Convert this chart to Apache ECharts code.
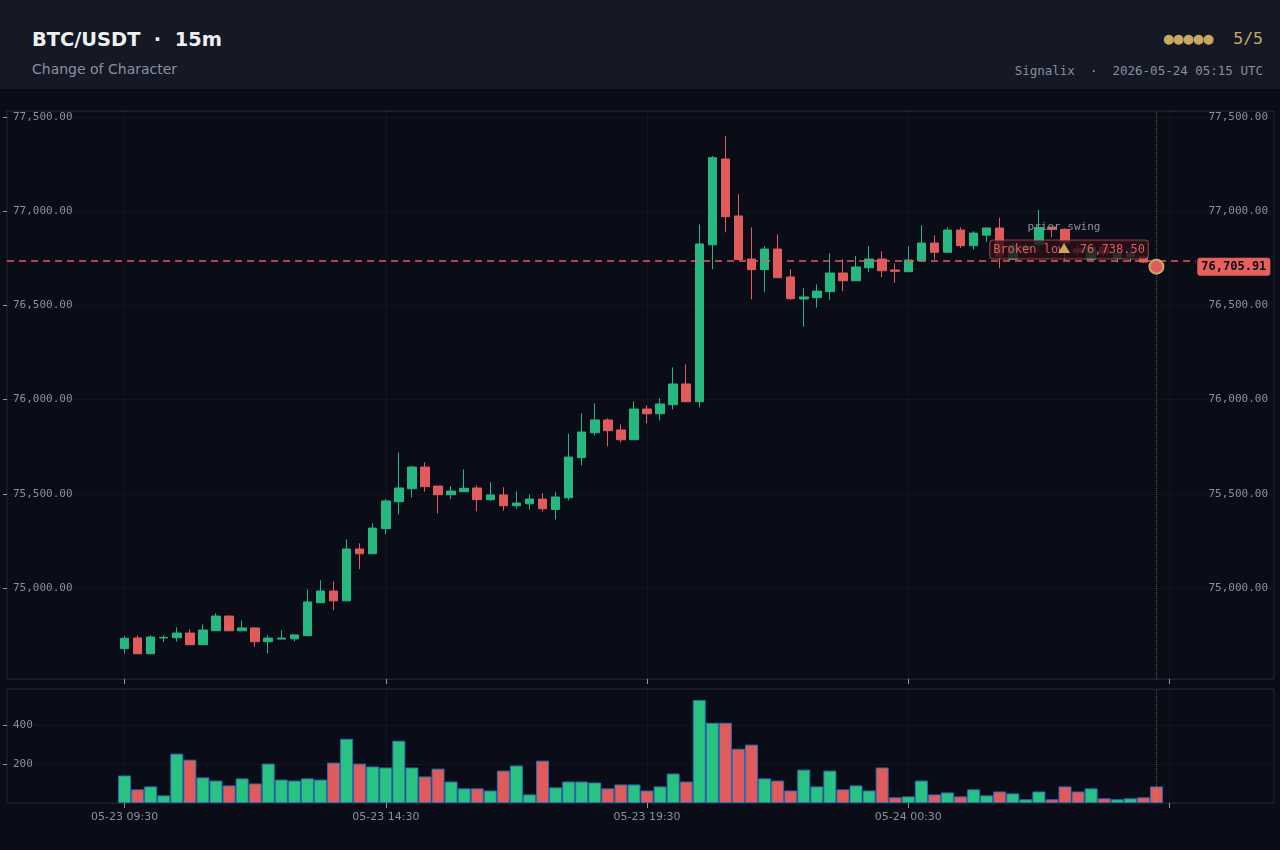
<!DOCTYPE html>
<html>
<head>
<meta charset="utf-8">
<script src="https://cdn.jsdelivr.net/npm/echarts@6/dist/echarts.min.js"></script>
<style>
  html, body { margin: 0; padding: 0; background: #0a0d17; width: 1280px; height: 850px; overflow: hidden; }
  .head { position: absolute; left: 0; top: 0; width: 1280px; height: 89px; background: #151825; }
  .title { position: absolute; left: 32px; top: 28px; font: bold 19.4px "DejaVu Sans"; color: #eef0f4; white-space: pre; }
  .sub { position: absolute; left: 32px; top: 61px; font: 14px "DejaVu Sans"; color: #8b90a0; }
  .score { position: absolute; right: 17px; top: 29px; font: 16.5px "DejaVu Sans Mono"; color: #c9a862; white-space: pre; }
  .meta { position: absolute; right: 17px; top: 63px; font: 12.5px "DejaVu Sans Mono"; color: #8a8f9e; white-space: pre; }
  #chart { position: absolute; left: 0; top: 89px; width: 1280px; height: 761px; }
</style>
</head>
<body>
<div class="head">
  <div class="title">BTC/USDT  ·  15m</div>
  <div class="sub">Change of Character</div>
  <div class="score">●●●●●  5/5</div>
  <div class="meta">Signalix  ·  2026-05-24 05:15 UTC</div>
</div>
<div id="chart"></div>
<script>
// 15m candles, 05-23 09:30 .. 05-24 05:15 (UTC)
var opens = [74678, 74735, 74651, 74735, 74736, 74761, 74699, 74773, 74851, 74773,
  74788, 74715, 74729, 74730, 74747, 74922, 74984, 74932, 75207, 75182,
  75315, 75458, 75527, 75642, 75541, 75495, 75511, 75531, 75469, 75494,
  75437, 75447, 75472, 75417, 75479, 75692, 75824, 75892, 75839, 75787,
  75950, 75925, 75973, 76083, 75989, 76822, 77277, 76975, 76746, 76690,
  76799, 76651, 76534, 76541, 76573, 76672, 76631, 76700, 76746, 76688,
  76679, 76736, 76831, 76782, 76900, 76817, 76873, 76911, 76745, 76800,
  76822, 76916, 76904, 76800, 76745, 76810, 76750, 76760, 76760, 76730];
var closes = [74733, 74651, 74740, 74738, 74761, 74699, 74777, 74851, 74773, 74788,
  74715, 74734, 74734, 74751, 74926, 74984, 74932, 75207, 75182, 75318,
  75462, 75531, 75642, 75538, 75495, 75515, 75529, 75469, 75494, 75437,
  75451, 75472, 75421, 75483, 75695, 75828, 75892, 75835, 75787, 75950,
  75925, 75977, 76083, 75989, 76826, 77284, 76971, 76743, 76690, 76799,
  76647, 76536, 76545, 76576, 76672, 76631, 76704, 76746, 76684, 76681,
  76741, 76831, 76782, 76900, 76817, 76884, 76911, 76762, 76820, 76815,
  76914, 76904, 76830, 76780, 76810, 76775, 76775, 76778, 76730, 76705.91];
var lows = [74652, 74651, 74649, 74712, 74716, 74699, 74699, 74773, 74771, 74772,
  74689, 74653, 74728, 74717, 74745, 74922, 74882, 74930, 75100, 75182,
  75285, 75391, 75481, 75511, 75396, 75471, 75511, 75407, 75463, 75410,
  75421, 75416, 75405, 75364, 75465, 75651, 75810, 75752, 75771, 75787,
  75874, 75890, 75948, 75989, 75959, 76692, 76888, 76743, 76532, 76570,
  76647, 76529, 76387, 76488, 76530, 76575, 76631, 76676, 76649, 76620,
  76679, 76736, 76744, 76782, 76806, 76796, 76838, 76697, 76745, 76770,
  76790, 76862, 76738.5, 76765, 76740, 76760, 76728, 76732, 76725, 76700];
var highs = [74745, 74749, 74749, 74749, 74791, 74781, 74807, 74866, 74853, 74828,
  74791, 74749, 74775, 74752, 74993, 75041, 75035, 75258, 75237, 75343,
  75471, 75720, 75648, 75667, 75541, 75541, 75630, 75545, 75561, 75535,
  75513, 75497, 75503, 75511, 75819, 75927, 75980, 75901, 75869, 75991,
  75970, 76007, 76171, 76187, 76930, 77293, 77398, 77090, 76914, 76815,
  76877, 76692, 76591, 76612, 76777, 76745, 76762, 76815, 76787, 76723,
  76814, 76925, 76872, 76915, 76915, 76893, 76911, 76965, 76835, 76830,
  77006, 76916, 76910, 76820, 76830, 76820, 76790, 76800, 76770, 76740];
var volumes = [141, 70, 85, 39, 253, 222, 131, 115, 90, 126,
  100, 202, 120, 115, 126, 120, 207, 329, 202, 187,
  182, 319, 182, 136, 176, 110, 75, 75, 64, 166,
  192, 44, 217, 80, 110, 110, 105, 75, 95, 95,
  64, 85, 151, 110, 528, 411, 411, 278, 299, 126,
  115, 64, 171, 85, 166, 70, 90, 64, 182, 29,
  34, 115, 44, 54, 34, 70, 39, 59, 49, 19,
  59, 19, 85, 59, 75, 24, 19, 24, 29, 85];

var swingLow = 76738.5;
var swingBar = 72;       // candle of the prior swing low
var lastPrice = 76705.91;
var priceMin = 74517, priceMax = 77532;
var volMax = 584;

var UP = "#26b880", DOWN = "#e05c5c", GOLD = "#c9a862";
var padN = 9;            // empty slots on each side of the data
var N = opens.length;

// category labels, 15 minute steps
var startUTC = Date.UTC(2026, 4, 23, 7, 15);
var p2 = function (n) { return String(n).padStart(2, "0"); };
var cats = [];
for (var i = 0; i < N + padN * 2; i++) {
  var d = new Date(startUTC + i * 15 * 60000);
  cats.push(p2(d.getUTCMonth() + 1) + "-" + p2(d.getUTCDate()) + " " + p2(d.getUTCHours()) + ":" + p2(d.getUTCMinutes()));
}
var lastIdx = padN + N - 1;

var candleData = cats.map(function (c, i) {
  var k = i - padN;
  if (k < 0 || k >= N) return "-";
  return [opens[k], closes[k], lows[k], highs[k]];
});
var volData = cats.map(function (c, i) {
  var k = i - padN;
  if (k < 0 || k >= N) return "-";
  return { value: volumes[k], itemStyle: { color: closes[k] >= opens[k] ? "#28c282" : DOWN } };
});

function fmt(v) {
  return Number(v).toLocaleString("en-US", { minimumFractionDigits: 2, maximumFractionDigits: 2 });
}
var tickInt = function (idx) { return idx >= padN && (idx - padN) % 20 === 0; };
var labelInt = function (idx) { return tickInt(idx) && idx <= lastIdx; };

var axisTxt = "#8a8f9e";
var faint = "rgba(255,255,255,0.035)";

var chart = echarts.init(document.getElementById("chart"));
var option = {
  backgroundColor: "#0a0d17",
  animation: false,
  grid: [
    { left: 7, width: 1267, top: 22, height: 568, show: true, borderColor: "#232733", backgroundColor: "transparent" },
    { left: 7, width: 1267, top: 600, height: 114, show: true, borderColor: "#232733", backgroundColor: "transparent" }
  ],
  xAxis: [
    {
      type: "category", gridIndex: 0, data: cats, boundaryGap: false,
      axisLine: { show: false },
      axisTick: { show: true, interval: tickInt, length: 5, lineStyle: { color: "#9096a3" } },
      axisLabel: { show: false },
      splitLine: { show: true, interval: tickInt, lineStyle: { color: faint } }
    },
    {
      type: "category", gridIndex: 1, data: cats, boundaryGap: false,
      axisLine: { show: false },
      axisTick: { show: true, interval: tickInt, length: 5, lineStyle: { color: "#9096a3" } },
      axisLabel: { show: true, interval: labelInt, color: axisTxt, fontFamily: "DejaVu Sans", fontSize: 11, margin: 9 },
      splitLine: { show: true, interval: tickInt, lineStyle: { color: faint } }
    }
  ],
  yAxis: [
    {
      type: "value", gridIndex: 0, position: "left", min: priceMin, max: priceMax,
      axisLine: { show: false },
      axisTick: { show: true, length: 4, lineStyle: { color: "#9096a3" } },
      axisLabel: { inside: true, margin: 6, color: axisTxt, fontFamily: "DejaVu Sans Mono", fontSize: 11, formatter: fmt, showMinLabel: false, showMaxLabel: false },
      splitLine: { lineStyle: { color: faint } }
    },
    {
      type: "value", gridIndex: 0, position: "right", min: priceMin, max: priceMax,
      axisLine: { show: false },
      axisTick: { show: false },
      axisLabel: { inside: true, margin: 6, color: axisTxt, fontFamily: "DejaVu Sans Mono", fontSize: 11, formatter: fmt, showMinLabel: false, showMaxLabel: false },
      splitLine: { show: false }
    },
    {
      type: "value", gridIndex: 1, position: "left", min: 0, max: volMax, interval: 200,
      axisLine: { show: false },
      axisTick: { show: true, length: 4, lineStyle: { color: "#9096a3" } },
      axisLabel: { inside: true, margin: 6, color: axisTxt, fontFamily: "DejaVu Sans Mono", fontSize: 11, showMinLabel: false, showMaxLabel: false },
      splitLine: { lineStyle: { color: faint } }
    }
  ],
  series: [
    {
      type: "candlestick",
      xAxisIndex: 0, yAxisIndex: 0,
      data: candleData,
      barWidth: 9,
      itemStyle: { color: UP, color0: DOWN, borderColor: UP, borderColor0: DOWN, borderWidth: 1 },
      markLine: {
        silent: true, symbol: ["none", "none"], animation: false,
        label: { show: false },
        data: [
          [
            { coord: [0, swingLow], lineStyle: { color: DOWN, type: [7, 5], width: 1.6 } },
            { coord: [91, swingLow] }
          ],
          { xAxis: cats[lastIdx], lineStyle: { color: "rgba(201,168,98,0.45)", type: "dotted", width: 1 } }
        ]
      },
      markPoint: {
        silent: true, animation: false,
        data: [
          {
            name: "broken", coord: [padN + swingBar, swingLow], symbol: "rect", symbolSize: [1, 1], symbolOffset: [4, -11],
            itemStyle: { color: "transparent" },
            label: {
              show: true, position: "inside", formatter: "Broken low  " + fmt(swingLow), color: DOWN,
              fontFamily: "DejaVu Sans Mono", fontSize: 12, padding: [3, 3, 3, 3], borderRadius: 3,
              backgroundColor: "rgba(40,16,24,0.82)", borderColor: "rgba(224,92,92,0.6)", borderWidth: 1
            }
          },
          {
            name: "last", coord: [lastIdx, lastPrice], symbol: "circle", symbolSize: 14,
            itemStyle: { color: DOWN, borderColor: GOLD, borderWidth: 2 },
            label: { show: false }
          },
          {
            name: "price", coord: [94, lastPrice], symbol: "rect", symbolSize: [1, 1], symbolOffset: [-1, 0],
            itemStyle: { color: "transparent" },
            label: {
              show: true, position: "inside", formatter: fmt(lastPrice), color: "#0b0e17", fontWeight: "bold",
              fontFamily: "DejaVu Sans Mono", fontSize: 12, backgroundColor: "#e8605e", borderRadius: 3, padding: [3, 4, 3, 4]
            }
          }
        ]
      }
    },
    {
      // prior swing marker, drawn above the label box
      type: "scatter",
      xAxisIndex: 0, yAxisIndex: 0, z: 10,
      silent: true,
      data: [[padN + swingBar, swingLow]],
      symbol: "triangle", symbolSize: [12, 10], symbolOffset: [-1, -12.5],
      itemStyle: { color: GOLD, opacity: 1 },
      label: { show: true, position: "top", distance: 10, formatter: "prior swing", color: axisTxt, fontFamily: "DejaVu Sans Mono", fontSize: 11 }
    },
    {
      type: "bar",
      xAxisIndex: 1, yAxisIndex: 2,
      data: volData,
      barWidth: 13,
      itemStyle: { borderColor: "#2d6db3", borderWidth: 1 },
      markLine: {
        silent: true, symbol: ["none", "none"], animation: false,
        label: { show: false },
        data: [
          { xAxis: cats[lastIdx], lineStyle: { color: "rgba(201,168,98,0.45)", type: "dotted", width: 1 } }
        ]
      }
    }
  ]
};
chart.setOption(option);
window.addEventListener("resize", function () { chart.resize(); });
</script>
</body>
</html>
